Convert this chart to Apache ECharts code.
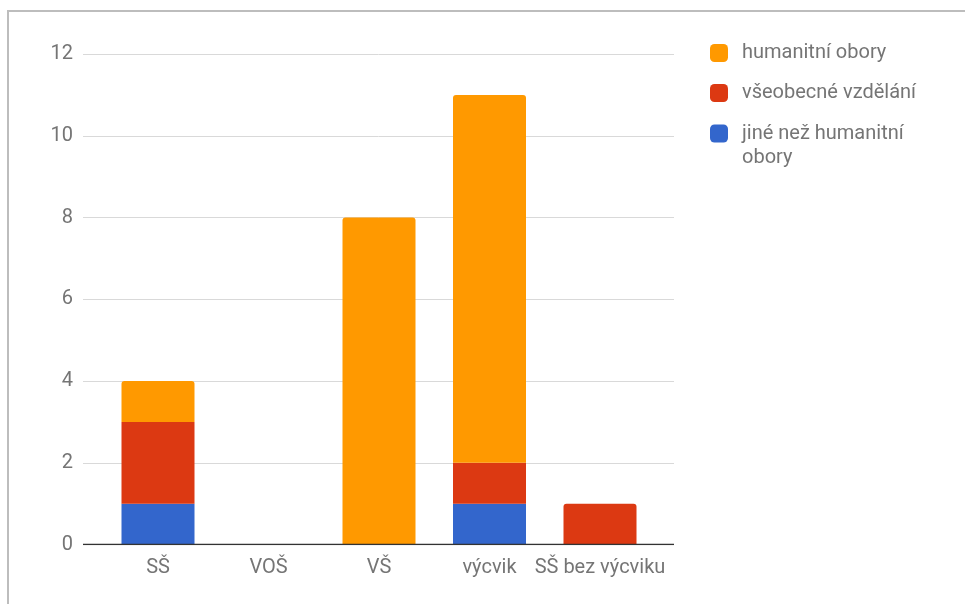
<!DOCTYPE html>
<html>
<head>
<meta charset="utf-8">
<script src="https://cdn.jsdelivr.net/npm/echarts@6/dist/echarts.min.js"></script>
<style>
  html, body { margin: 0; padding: 0; background: #fff; }
  #chart { width: 965px; height: 604px; }
</style>
</head>
<body>
<div id="chart"></div>
<script>
// Categories and values
const categories = ['SŠ', 'VOŠ', 'VŠ', 'výcvik', 'SŠ bez výcviku'];
const humanitni = [1, 0, 8, 9, 0];
const vseobecne = [2, 0, 0, 1, 1];
const jine = [1, 0, 0, 1, 0];
const yTicks = [0, 2, 4, 6, 8, 10, 12];

const seriesNames = ['jiné než humanitní obory', 'všeobecné vzdělání', 'humanitní obory'];
const seriesColors = ['#3366cc', '#dc3912', '#ff9900'];
const stackData = [jine, vseobecne, humanitni];

const FONT = 'Roboto';
const FS = 20;
const labelColor = '#757575';

// Round only the topmost non-empty segment of each stack
function buildData(si) {
  return stackData[si].map((v, ci) => {
    let top = -1;
    for (let k = 0; k < stackData.length; k++) if (stackData[k][ci] > 0) top = k;
    return top === si ? { value: v, itemStyle: { borderRadius: [3, 3, 0, 0] } } : v;
  });
}

const yMin = yTicks[0], yMax = yTicks[yTicks.length - 1], yStep = yTicks[1] - yTicks[0];

const chart = echarts.init(document.getElementById('chart'), null, { renderer: 'canvas' });

const legendBase = {
  orient: 'vertical',
  left: 710,
  padding: 0,
  icon: 'roundRect',
  itemWidth: 18,
  itemHeight: 18,
  itemGap: 0,
  textStyle: { fontFamily: FONT, fontSize: FS, color: labelColor, lineHeight: 24, padding: [0, 0, 0, 9] }
};

chart.setOption({
  animation: false,
  textStyle: { fontFamily: FONT },
  graphic: [{
    type: 'rect',
    shape: { x: 8, y: 11, width: 2000, height: 2000 },
    style: { fill: 'none', stroke: '#bdbdbd', lineWidth: 2 },
    silent: true
  }],
  legend: [
    Object.assign({}, legendBase, { top: 41, data: [seriesNames[2]] }),
    Object.assign({}, legendBase, { top: 81, data: [seriesNames[1]] }),
    Object.assign({}, legendBase, {
      top: 97.5,
      data: [seriesNames[0]],
      // long name wraps onto a second line, first line level with the swatch
      formatter: () => '\njiné než humanitní\nobory'
    })
  ],
  grid: [
    // grid lines and baseline spanning the full plot width
    { left: 83, right: 291, top: 54, bottom: 59.5, containLabel: false },
    // bars and category labels
    { left: 102.75, right: 309.75, top: 54, bottom: 59.5, containLabel: false }
  ],
  xAxis: [
    {
      gridIndex: 0, type: 'value', min: 0, max: 1,
      axisLine: { show: false }, axisTick: { show: false },
      axisLabel: { show: false }, splitLine: { show: false }
    },
    {
      gridIndex: 1, type: 'category', data: categories,
      axisLine: { show: false }, axisTick: { show: false },
      axisLabel: { color: labelColor, fontSize: FS, fontFamily: FONT, margin: 13, interval: 0 },
      splitLine: { show: false }
    }
  ],
  yAxis: [
    {
      gridIndex: 0, type: 'value', min: yMin, max: yMax, interval: yStep,
      axisLine: { show: false }, axisTick: { show: false },
      axisLabel: { color: labelColor, fontSize: FS, fontFamily: FONT, margin: 10 },
      splitLine: { show: true, lineStyle: { color: '#d9d9d9', width: 1 } }
    },
    {
      gridIndex: 1, type: 'value', min: yMin, max: yMax, interval: yStep,
      axisLine: { show: false }, axisTick: { show: false },
      axisLabel: { show: false }, splitLine: { show: false }
    }
  ],
  series: [
    {
      // baseline under the bars
      type: 'line', xAxisIndex: 0, yAxisIndex: 0, data: [[0, 0], [1, 0]],
      symbol: 'none', silent: true,
      lineStyle: { color: '#333', width: 1.5 }, z: 5
    }
  ].concat(seriesNames.map((name, si) => ({
    name: name,
    type: 'bar',
    stack: 'total',
    xAxisIndex: 1,
    yAxisIndex: 1,
    barWidth: 73,
    itemStyle: { color: seriesColors[si] },
    data: buildData(si)
  })))
});
</script>
</body>
</html>
